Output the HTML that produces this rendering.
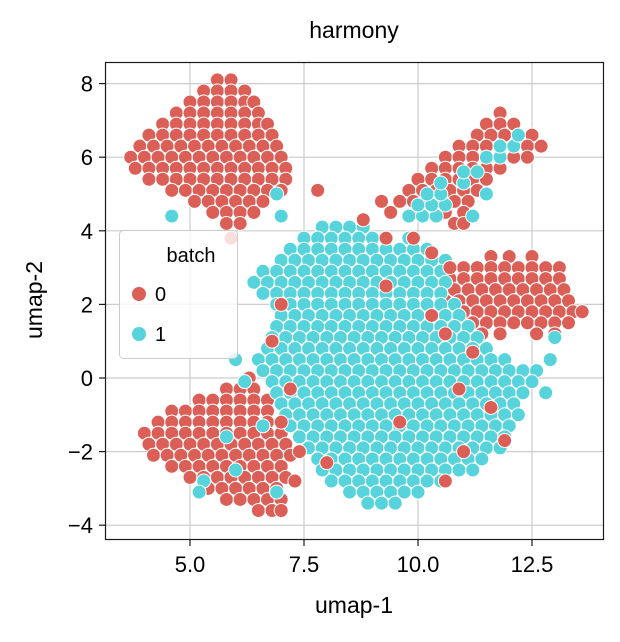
<!DOCTYPE html>
<html><head><meta charset="utf-8"><style>
html,body{margin:0;padding:0;background:#fff;}
svg text{font-family:"Liberation Sans",Arial,sans-serif;fill:#000;}
</style></head><body>
<svg id="chart" width="620" height="637" viewBox="0 0 620 637" xmlns="http://www.w3.org/2000/svg">
<rect x="0" y="0" width="620" height="637" fill="#fff"/>
<g id="grid"></g>
<g id="points"></g>
<rect x="105.5" y="62.5" width="498" height="477" fill="none" stroke="#1a1a1a" stroke-width="1.2"/>
<g id="ticks"></g>
<text x="354" y="38" font-size="23" text-anchor="middle">harmony</text>
<text x="354" y="613" font-size="23" text-anchor="middle">umap-1</text>
<text x="0" y="0" font-size="23" text-anchor="middle" transform="translate(42,300) rotate(-90)">umap-2</text>
<g>
<rect x="119.5" y="230.5" width="118" height="128" rx="4" fill="#fff" fill-opacity="0.8" stroke="#cccccc"/>
<text x="191" y="262" font-size="20" text-anchor="middle">batch</text>
<circle cx="139" cy="294" r="7" fill="#db5f57"/>
<text x="155" y="301" font-size="20">0</text>
<circle cx="139" cy="334" r="7" fill="#57d3db"/>
<text x="155" y="341" font-size="20">1</text>
</g>
</svg>
<script>
const xTicks=[5.0,7.5,10.0,12.5];
const xTickLabels=["5.0","7.5","10.0","12.5"];
const yTicks=[8,6,4,2,0,-2,-4];
const yTickLabels=["8","6","4","2","0","\u22122","\u22124"];
const batchColors=["#db5f57","#57d3db"];
const redRows=[
[8.1,[5.6,5.9]],[7.8,[5.3,5.6,5.9,6.2]],[7.5,[5.0,5.3,5.6,5.9,6.2,6.4]],
[7.2,[4.7,5.0,5.3,5.6,5.9,6.2,6.5]],[6.9,[4.4,4.7,5.0,5.3,5.6,5.9,6.2,6.5,6.7]],
[6.6,[4.1,4.4,4.7,5.0,5.3,5.6,5.9,6.2,6.5,6.8]],[6.3,[3.9,4.2,4.5,4.8,5.1,5.4,5.7,6.0,6.3,6.6,6.9]],
[6.0,[3.7,4.0,4.3,4.6,4.9,5.2,5.5,5.8,6.1,6.4,6.7,7.0]],[5.7,[3.8,4.1,4.4,4.7,5.0,5.3,5.6,5.9,6.2,6.5,6.8,7.1]],
[5.4,[4.1,4.4,4.7,5.0,5.3,5.6,5.9,6.2,6.5,6.8,7.1]],[5.1,[4.6,4.9,5.2,5.5,5.8,6.1,6.4,6.7,7.0,7.8]],
[4.8,[5.1,5.4,5.7,6.0,6.3,6.6]],[4.5,[5.5,5.8,6.1,6.4]],[4.2,[5.8,6.1]],[3.8,[5.9]],
[0.0,[6.3]],[-0.3,[5.8,6.1,6.4]],[-0.6,[5.2,5.5,5.8,6.1,6.4,6.7]],
[-0.9,[4.6,4.9,5.2,5.5,5.8,6.1,6.4,6.7]],[-1.2,[4.3,4.6,4.9,5.2,5.5,5.8,6.1,6.4,6.7,7.0]],
[-1.5,[4.0,4.3,4.6,4.9,5.2,5.5,5.8,6.1,6.4,6.7,7.0]],[-1.8,[4.1,4.4,4.7,5.0,5.3,5.6,5.9,6.2,6.5,6.8,7.1]],
[-2.1,[4.2,4.5,4.8,5.1,5.4,5.7,6.0,6.3,6.6,6.9,7.2]],[-2.4,[4.6,4.9,5.2,5.5,5.8,6.1,6.4,6.7,7.0]],
[-2.7,[5.0,5.3,5.6,5.9,6.2,6.5,6.8,7.1]],[-3.0,[5.4,5.7,6.0,6.3,6.6,6.9]],
[-3.3,[5.8,6.1,6.4,6.7,7.0]],[-3.6,[6.5,6.8,7.0]],
[7.2,[11.8]],[6.9,[11.5,11.8,12.1]],[6.6,[11.3,11.6,11.9,12.2,12.5]],
[6.3,[10.9,11.2,11.5,11.8,12.1,12.4,12.7]],[6.0,[10.6,10.9,11.2,11.5,11.8,12.1,12.4]],
[5.7,[10.3,10.6,10.9,11.2,11.5,11.8]],[5.4,[10.0,10.3,10.6,10.9,11.2,11.5]],
[5.1,[9.8,10.1,10.4,10.7,11.0,11.3]],[4.8,[9.2,9.6,9.9,10.2,10.5,10.8,11.1]],
[4.5,[9.4,10.0,10.6,11.0]],[4.2,[10.8,11.0]],
[3.3,[11.6,12.0,12.5]],[3.0,[11.0,11.3,11.6,11.9,12.2,12.5,12.8,13.1]],
[2.7,[10.7,11.0,11.3,11.6,11.9,12.2,12.5,12.8,13.1]],[2.4,[10.5,10.8,11.1,11.4,11.7,12.0,12.3,12.6,12.9,13.2]],
[2.1,[10.6,10.9,11.2,11.5,11.8,12.1,12.4,12.7,13.0,13.3]],[1.8,[11.0,11.3,11.6,11.9,12.2,12.5,12.8,13.1,13.4,13.6]],
[1.5,[11.2,11.5,11.8,12.1,12.4,12.7,13.0,13.3]],[1.2,[11.4,11.8,12.6,13.0]]
];
const cyanRows=[
[4.1,[7.9,8.2,8.5,8.8]],[3.8,[7.5,7.8,8.1,8.4,8.7,9.0,9.3,9.8]],
[3.5,[7.2,7.5,7.8,8.1,8.4,8.7,9.0,9.3,9.6,9.9,10.2]],
[3.2,[7.0,7.3,7.6,7.9,8.2,8.5,8.8,9.1,9.4,9.7,10.0,10.3,10.6]],
[2.9,[6.6,6.9,7.2,7.5,7.8,8.1,8.4,8.7,9.0,9.3,9.6,9.9,10.2,10.5]],
[2.6,[6.4,6.7,7.0,7.3,7.6,7.9,8.2,8.5,8.8,9.1,9.4,9.7,10.0,10.3,10.6]],
[2.3,[6.6,6.9,7.2,7.5,7.8,8.1,8.4,8.7,9.0,9.3,9.6,9.9,10.2,10.5]],
[2.0,[6.9,7.2,7.5,7.8,8.1,8.4,8.7,9.0,9.3,9.6,9.9,10.2,10.5,10.8]],
[1.7,[7.0,7.3,7.6,7.9,8.2,8.5,8.8,9.1,9.4,9.7,10.0,10.3,10.6,10.9]],
[1.4,[6.9,7.2,7.5,7.8,8.1,8.4,8.7,9.0,9.3,9.6,9.9,10.2,10.5,10.8,11.1]],
[1.1,[6.8,7.1,7.4,7.7,8.0,8.3,8.6,8.9,9.2,9.5,9.8,10.1,10.4,10.7,11.0,11.3]],
[0.8,[6.7,7.0,7.3,7.6,7.9,8.2,8.5,8.8,9.1,9.4,9.7,10.0,10.3,10.6,10.9,11.2,11.5]],
[0.5,[6.0,6.5,6.8,7.1,7.4,7.7,8.0,8.3,8.6,8.9,9.2,9.5,9.8,10.1,10.4,10.7,11.0,11.3,11.6,11.9,12.9]],
[0.2,[6.6,6.9,7.2,7.5,7.8,8.1,8.4,8.7,9.0,9.3,9.6,9.9,10.2,10.5,10.8,11.1,11.4,11.7,12.0,12.3,12.6]],
[-0.1,[6.2,6.8,7.1,7.4,7.7,8.0,8.3,8.6,8.9,9.2,9.5,9.8,10.1,10.4,10.7,11.0,11.3,11.6,11.9,12.2,12.5]],
[-0.4,[6.9,7.2,7.5,7.8,8.1,8.4,8.7,9.0,9.3,9.6,9.9,10.2,10.5,10.8,11.1,11.4,11.7,12.0,12.3,12.8]],
[-0.7,[7.0,7.3,7.6,7.9,8.2,8.5,8.8,9.1,9.4,9.7,10.0,10.3,10.6,10.9,11.2,11.5,11.8,12.1]],
[-1.0,[7.1,7.4,7.7,8.0,8.3,8.6,8.9,9.2,9.5,9.8,10.1,10.4,10.7,11.0,11.3,11.6,11.9,12.2]],
[-1.3,[6.6,7.2,7.5,7.8,8.1,8.4,8.7,9.0,9.3,9.6,9.9,10.2,10.5,10.8,11.1,11.4,11.7,12.0]],
[-1.6,[5.8,7.4,7.7,8.0,8.3,8.6,8.9,9.2,9.5,9.8,10.1,10.4,10.7,11.0,11.3,11.6,11.9]],
[-1.9,[7.6,7.9,8.2,8.5,8.8,9.1,9.4,9.7,10.0,10.3,10.6,10.9,11.2,11.5,11.8]],
[-2.2,[7.8,8.1,8.4,8.7,9.0,9.3,9.6,9.9,10.2,10.5,10.8,11.1,11.4]],
[-2.5,[6.0,7.9,8.2,8.5,8.8,9.1,9.4,9.7,10.0,10.3,10.6,10.9,11.2]],
[-2.8,[5.3,8.1,8.4,8.7,9.0,9.3,9.6,9.9,10.2,10.5]],
[-3.1,[5.2,6.9,8.5,8.8,9.1,9.4,9.7,10.0]],[-3.4,[8.9,9.2,9.5]],
[4.4,[4.6,7.0,9.8,10.1,10.4,11.2]],[4.7,[10.0,10.3,10.6]],[5.0,[6.9,10.2,10.5,11.5]],
[5.3,[10.5,11.0]],[5.6,[11.0,11.3]],[6.0,[11.5,11.8]],[6.3,[11.8,12.1]],[6.6,[12.2]],
[1.1,[13.0]]
];
const redOverlayRows=[
[4.3,[8.8]],[3.8,[9.3,9.9]],[3.4,[10.3]],[3.0,[10.7]],[2.5,[9.3]],[2.0,[7.0]],
[1.7,[10.3]],[1.2,[10.6]],[1.0,[6.8]],[0.7,[11.2]],[-0.3,[7.2,10.9]],[-0.8,[11.6]],
[-1.2,[7.0,9.6]],[-1.7,[11.9]],[-2.0,[7.4,11.0]],[-2.3,[8.0]],[-2.8,[7.3,10.6]]
];
const X0=190,XS=45.6,Y0=378,YS=36.8;
function sx(v){return X0+(v-5)*XS;}
function sy(v){return Y0-v*YS;}
const NS="http://www.w3.org/2000/svg";
const grid=document.getElementById('grid'),ticks=document.getElementById('ticks'),pts=document.getElementById('points');
xTicks.forEach((t,i)=>{
 const l=document.createElementNS(NS,'line');
 l.setAttribute('x1',sx(t));l.setAttribute('x2',sx(t));l.setAttribute('y1',62);l.setAttribute('y2',539);
 l.setAttribute('stroke','#cccccc');l.setAttribute('stroke-width','1.2');
 
 
 grid.appendChild(l);
 const tk=document.createElementNS(NS,'line');
 tk.setAttribute('x1',sx(t));tk.setAttribute('x2',sx(t));tk.setAttribute('y1',540);tk.setAttribute('y2',546);
 tk.setAttribute('stroke','#1a1a1a');tk.setAttribute('stroke-width','1.2');
 
 
 ticks.appendChild(tk);
 const tx=document.createElementNS(NS,'text');
 tx.setAttribute('x',sx(t));tx.setAttribute('y',572);tx.setAttribute('font-size','22');tx.setAttribute('text-anchor','middle');
 tx.textContent=xTickLabels[i];
 
 
 ticks.appendChild(tx);
});
yTicks.forEach((t,i)=>{
 const l=document.createElementNS(NS,'line');
 l.setAttribute('x1',105);l.setAttribute('x2',603);l.setAttribute('y1',sy(t));l.setAttribute('y2',sy(t));
 l.setAttribute('stroke','#cccccc');l.setAttribute('stroke-width','1.2');
 
 
 grid.appendChild(l);
 const tk=document.createElementNS(NS,'line');
 tk.setAttribute('x1',99);tk.setAttribute('x2',105);tk.setAttribute('y1',sy(t));tk.setAttribute('y2',sy(t));
 tk.setAttribute('stroke','#1a1a1a');tk.setAttribute('stroke-width','1.2');
 
 
 ticks.appendChild(tk);
 const tx=document.createElementNS(NS,'text');
 tx.setAttribute('x',93);tx.setAttribute('y',sy(t)+8);tx.setAttribute('font-size','22');tx.setAttribute('text-anchor','end');
 tx.textContent=yTickLabels[i];
 
 
 ticks.appendChild(tx);
});
function drawRows(rows,color,name){
 rows.forEach(r=>{r[1].forEach(x=>{
  const c=document.createElementNS(NS,'circle');
  c.setAttribute('cx',sx(x));c.setAttribute('cy',sy(r[0]));c.setAttribute('r','7');
  c.setAttribute('fill',color);c.setAttribute('stroke','#fff');c.setAttribute('stroke-width','1');
  
  
  pts.appendChild(c);
 });});
}
drawRows(redRows,batchColors[0],'point-batch-0');
drawRows(cyanRows,batchColors[1],'point-batch-1');
drawRows(redOverlayRows,batchColors[0],'point-batch-0');
</script>
</body></html>
